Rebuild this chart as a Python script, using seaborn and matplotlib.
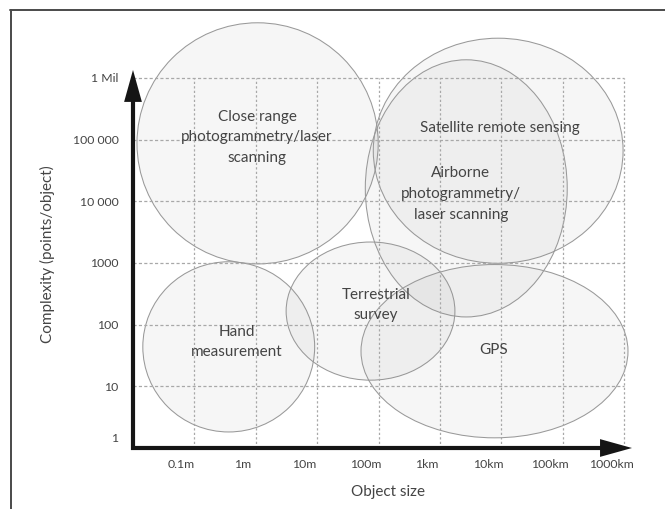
import matplotlib
matplotlib.use("Agg")
import matplotlib.pyplot as plt
import seaborn as sns
from matplotlib.patches import Ellipse, FancyArrowPatch
from matplotlib.lines import Line2D
from matplotlib.transforms import ScaledTranslation

# ---------------- data (log10 units) ----------------
x_ticks = [-1, 0, 1, 2, 3, 4, 5, 6]
x_tick_labels = ["0.1m", "1m", "10m", "100m", "1km", "10km", "100km", "1000km"]
y_ticks = [0, 1, 2, 3, 4, 5, 6]
y_tick_labels = ["1", "10", "100", "1000", "10 000", "100 000", "1 Mil"]

method_names = ["Close range\nphotogrammetry/laser\nscanning",
                "Satellite remote sensing",
                "Airborne\nphotogrammetry/\nlaser scanning",
                "Hand\nmeasurement",
                "Terrestrial\nsurvey",
                "GPS"]
center_x = [0.03, 3.95, 3.43, -0.44, 1.87, 3.89]
center_y = [4.94, 4.82, 4.21, 1.64, 2.22, 1.57]
span_x = [3.93, 4.07, 3.29, 2.80, 2.75, 4.35]
span_y = [3.91, 3.65, 4.17, 2.76, 2.24, 2.81]
label_x = [0.02, 3.97, 3.34, -0.31, 1.96, 3.88]
label_y = [5.04, 5.19, 4.12, 1.72, 2.32, 1.59]

x_title = "Object size"
y_title = "Complexity (points/object)"

# ---------------- style ----------------
sns.set_theme(style="white")
plt.rcParams['font.family'] = ['Lato', 'DejaVu Sans']
txt_color = "#444444"

fig = plt.figure(figsize=(6.65, 5.09), dpi=100)
W, H = 665, 509
x0_px, y0_px = 133, 448
sx, sy = 61.375, 61.67
right_px, top_px = 640, 15
ax = fig.add_axes([x0_px / W, (H - y0_px) / H, (right_px - x0_px) / W, (y0_px - top_px) / H])
ax.set_xlim(-2, -2 + (right_px - x0_px) / sx)
ax.set_ylim(0, (y0_px - top_px) / sy)
ax.patch.set_alpha(0)
for s in ax.spines.values():
    s.set_visible(False)

# ellipses
for cx, cy, w, h in zip(center_x, center_y, span_x, span_y):
    ax.add_patch(Ellipse((cx, cy), w, h, facecolor=(0.55, 0.55, 0.55, 0.075),
                         edgecolor="#999999", lw=0.75, zorder=1, clip_on=False))

# grid
grid_kw = dict(color="#a8a8a8", lw=0.9, zorder=2)
for yv in y_ticks[1:]:
    ax.plot([-2, 6], [yv, yv], linestyle=(0, (2.5, 1.8)), **grid_kw)
for xv in x_ticks:
    ax.plot([xv, xv], [0, 6], linestyle=(0, (1.8, 1.8)), **grid_kw)

# labels in ellipses
for name, lx, ly in zip(method_names, label_x, label_y):
    ax.text(lx, ly, name, ha="center", va="center", fontsize=11,
            color=txt_color, linespacing=1.6, zorder=5)

# axis arrows: shafts + heads
shaft_kw = dict(color="#151515", lw=3.0, zorder=6, clip_on=False, solid_capstyle="butt")
ax.plot([-2.035, 5.85], [0, 0], **shaft_kw)
ax.plot([-2, -2], [-0.035, 5.85], **shaft_kw)
head_kw = dict(arrowstyle="-|>,head_length=1.15,head_width=0.32", mutation_scale=20,
               lw=0, color="#151515", shrinkA=0, shrinkB=0, zorder=7, clip_on=False)
ax.add_patch(FancyArrowPatch((5.6, 0), (6.13, 0), **head_kw))
ax.add_patch(FancyArrowPatch((-2, 5.6), (-2, 6.13), **head_kw))

# ticks
ax.set_xticks(x_ticks)
ax.set_xticklabels(x_tick_labels)
ax.set_yticks(y_ticks)
ax.set_yticklabels(y_tick_labels)
ax.tick_params(axis="both", length=0, labelsize=8.8, labelcolor=txt_color)
ax.tick_params(axis="x", pad=8)
ax.tick_params(axis="y", pad=10.5)
for lab in ax.get_xticklabels():
    lab.set_transform(lab.get_transform() + ScaledTranslation(-13 / 100, 0, fig.dpi_scale_trans))
ylabs = ax.get_yticklabels()
ylabs[0].set_transform(ylabs[0].get_transform() + ScaledTranslation(0, 10 / 100, fig.dpi_scale_trans))

ax.set_xlabel(x_title, fontsize=11, color=txt_color, va="center")
ax.set_ylabel(y_title, fontsize=11, color=txt_color, va="center")
ax.xaxis.set_label_coords((388 - x0_px) / (right_px - x0_px), (y0_px - 492) / (y0_px - top_px))
ax.yaxis.set_label_coords((47 - x0_px) / (right_px - x0_px), (y0_px - 254) / (y0_px - top_px))

# outer frame (top and left edges)
fig.add_artist(Line2D([10 / W, 1], [1 - 10 / H, 1 - 10 / H], transform=fig.transFigure,
                      color="#4a4a4a", lw=1.4))
fig.add_artist(Line2D([11 / W, 11 / W], [0, 1 - 10 / H], transform=fig.transFigure,
                      color="#4a4a4a", lw=1.4))

fig.savefig("out.png", dpi=100)
